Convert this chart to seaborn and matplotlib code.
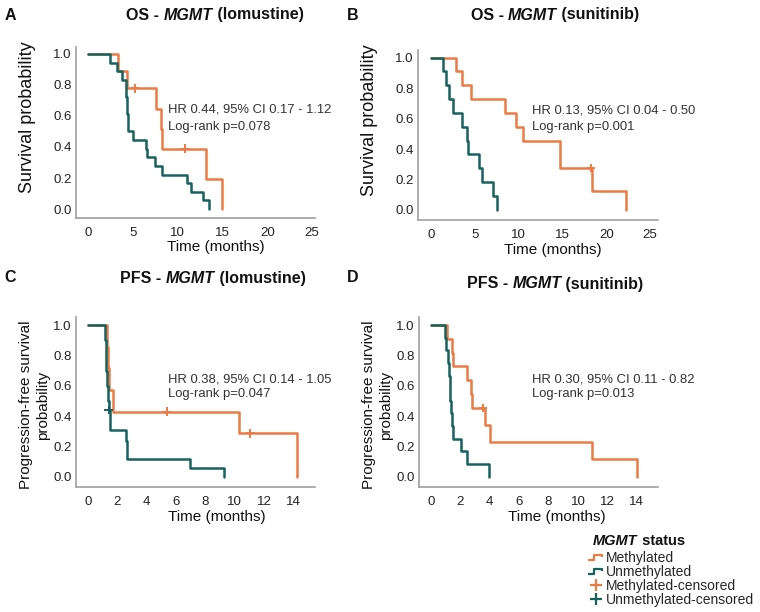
import pandas as pd
import matplotlib.pyplot as plt
import seaborn as sns
from matplotlib.lines import Line2D
from matplotlib.path import Path

# A: OS lomustine
a_meth_t = [0, 3.3, 4.3, 7.6, 8.2, 8.3, 13.15, 15.0]
a_meth_s = [1.0, 0.889, 0.778, 0.648, 0.518, 0.389, 0.194, 0.0]
a_meth_ct = [5.25, 10.8]
a_meth_cs = [0.778, 0.389]
a_unm_t = [0, 2.45, 3.2, 3.76, 4.22, 4.28, 4.34, 4.4, 4.46, 5.06, 6.47, 6.6, 7.48, 8.22, 11.0, 11.5, 12.87, 13.45]
a_unm_s = [1.0, 0.944, 0.889, 0.833, 0.778, 0.722, 0.667, 0.611, 0.5, 0.444, 0.389, 0.333, 0.278, 0.222, 0.167, 0.111, 0.056, 0.0]
a_unm_ct = []
a_unm_cs = []

# B: OS sunitinib
b_meth_t = [0, 2.85, 3.57, 4.53, 8.45, 9.7, 10.47, 14.76, 18.35, 22.2]
b_meth_s = [1.0, 0.909, 0.818, 0.727, 0.636, 0.545, 0.455, 0.273, 0.125, 0.0]
b_meth_ct = [18.25]
b_meth_cs = [0.273]
b_unm_t = [0, 1.41, 1.67, 2.05, 2.55, 3.58, 4.15, 4.26, 5.48, 5.86, 7.11, 7.5]
b_unm_s = [1.0, 0.909, 0.818, 0.727, 0.636, 0.545, 0.455, 0.364, 0.273, 0.182, 0.091, 0.0]
b_unm_ct = []
b_unm_cs = []

# C: PFS lomustine
c_meth_t = [0, 1.3, 1.36, 1.4, 1.68, 10.3, 14.27]
c_meth_s = [1.0, 0.857, 0.714, 0.571, 0.429, 0.286, 0.0]
c_meth_ct = [5.36, 11.05]
c_meth_cs = [0.429, 0.286]
c_unm_t = [0, 1.16, 1.2, 1.25, 1.3, 1.35, 1.4, 1.5, 2.57, 2.66, 6.95, 9.27]
c_unm_s = [1.0, 0.9, 0.8, 0.7, 0.6, 0.5, 0.44, 0.31, 0.235, 0.115, 0.058, 0.0]
c_unm_ct = [1.42]
c_unm_cs = [0.44]

# D: PFS sunitinib
d_meth_t = [0, 1.07, 1.41, 1.47, 2.47, 2.72, 2.8, 3.68, 4.02, 10.98, 14.04]
d_meth_s = [1.0, 0.909, 0.818, 0.727, 0.636, 0.545, 0.455, 0.341, 0.227, 0.114, 0.0]
d_meth_ct = [3.52]
d_meth_cs = [0.455]
d_unm_t = [0, 0.95, 1.05, 1.15, 1.22, 1.27, 1.32, 1.38, 1.43, 1.48, 2.02, 2.43, 3.97]
d_unm_s = [1.0, 0.917, 0.833, 0.75, 0.667, 0.583, 0.5, 0.417, 0.333, 0.25, 0.167, 0.083, 0.0]
d_unm_ct = []
d_unm_cs = []

hr_texts = ['HR 0.44, 95% CI 0.17 - 1.12', 'HR 0.13, 95% CI 0.04 - 0.50',
            'HR 0.38, 95% CI 0.14 - 1.05', 'HR 0.30, 95% CI 0.11 - 0.82']
p_texts = ['Log-rank p=0.078', 'Log-rank p=0.001', 'Log-rank p=0.047', 'Log-rank p=0.013']
endpoints = ['OS', 'OS', 'PFS', 'PFS']
drugs = ['(lomustine)', '(sunitinib)', '(lomustine)', '(sunitinib)']
letters = ['A', 'B', 'C', 'D']
ylabels = ['Survival probability', 'Survival probability',
           'Progression-free survival\nprobability', 'Progression-free survival\nprobability']
legend_labels = ['Methylated', 'Unmethylated', 'Methylated-censored', 'Unmethylated-censored']

ORANGE = '#EB7A45'
TEAL = '#17625D'
paleta = {'Methylated': ORANGE, 'Unmethylated': TEAL}

sns.set_style('white')
plt.rcParams['font.family'] = ['Liberation Sans', 'DejaVu Sans']

W, H = 760, 612
fig = plt.figure(figsize=(W / 100, H / 100), dpi=100)


def rich_text(x, y, parts, size, ha='center'):
    # tekst z mieszanym stylem (pogrubienie / kursywa)
    r = fig.canvas.get_renderer()
    objs = [fig.text(0, 0, s, fontsize=size, va='center', ha='left', color='#111', **kw) for s, kw in parts]
    widths = [t.get_window_extent(r).width for t in objs]
    x0 = x - sum(widths) / 2 if ha == 'center' else x
    for t, w in zip(objs, widths):
        t.set_position((x0 / W, 1 - y / H))
        x0 += w


# geometria paneli w pikselach: lewo, góra, prawo, dół
boxes = [(76, 47, 315, 218), (418, 50, 658, 220), (76, 317, 315, 487), (419, 317, 658, 487)]
xlims = [(-1.34, 25.33), (-1.48, 25.9), (-0.82, 15.47), (-0.82, 15.45)]
ylims = [(-0.058, 1.045), (-0.066, 1.05), (-0.068, 1.053), (-0.068, 1.053)]
xticks = [range(0, 26, 5), range(0, 26, 5), range(0, 15, 2), range(0, 15, 2)]
title_pos = [(215, 15), (555, 15), (213, 279), (555, 284)]
letter_pos = [(10, 15), (353, 15), (10, 278), (353, 278)]
text_pos = [(0.385, 0.632, 0.532), (0.475, 0.647, 0.547), (0.385, 0.635, 0.545), (0.473, 0.635, 0.545)]
ylab_size = [13, 13, 11, 11]
ylab_pos = [(-0.168, 0.59), (-0.168, 0.59), (-0.109, 0.482), (-0.109, 0.482)]
xlab_pos = [(0.586, -0.13), (0.56, -0.135), (0.59, -0.135), (0.576, -0.135)]

dane = [
    (a_meth_t, a_meth_s, a_meth_ct, a_meth_cs, a_unm_t, a_unm_s, a_unm_ct, a_unm_cs),
    (b_meth_t, b_meth_s, b_meth_ct, b_meth_cs, b_unm_t, b_unm_s, b_unm_ct, b_unm_cs),
    (c_meth_t, c_meth_s, c_meth_ct, c_meth_cs, c_unm_t, c_unm_s, c_unm_ct, c_unm_cs),
    (d_meth_t, d_meth_s, d_meth_ct, d_meth_cs, d_unm_t, d_unm_s, d_unm_ct, d_unm_cs),
]

for i, (mt, ms, mct, mcs, ut, us, uct, ucs) in enumerate(dane):
    l, t, r, b = boxes[i]
    ax = fig.add_axes([l / W, 1 - b / H, (r - l) / W, (b - t) / H])

    df = pd.concat([
        pd.DataFrame({'time': mt, 'surv': ms, 'status': 'Methylated'}),
        pd.DataFrame({'time': ut, 'surv': us, 'status': 'Unmethylated'}),
    ], ignore_index=True)
    sns.lineplot(data=df, x='time', y='surv', hue='status', palette=paleta, estimator=None,
                 sort=False, drawstyle='steps-post', linewidth=1.8, legend=False, ax=ax)

    cens = pd.concat([
        pd.DataFrame({'time': mct, 'surv': mcs, 'status': 'Methylated'}),
        pd.DataFrame({'time': uct, 'surv': ucs, 'status': 'Unmethylated'}),
    ], ignore_index=True)
    if len(cens):
        sns.scatterplot(data=cens, x='time', y='surv', hue='status', palette=paleta, marker='+',
                        s=40, linewidth=1.4, legend=False, ax=ax, zorder=3)

    ax.set_xlim(*xlims[i])
    ax.set_ylim(*ylims[i])
    ax.set_xticks(list(xticks[i]))
    ax.set_yticks([0, 0.2, 0.4, 0.6, 0.8, 1.0])
    ax.set_yticklabels(['0.0', '0.2', '0.4', '0.6', '0.8', '1.0'])
    ax.tick_params(length=0, labelsize=9.5, colors='#222')
    ax.tick_params(axis='x', pad=6.5)
    ax.tick_params(axis='y', pad=3)
    sns.despine(ax=ax)
    for sp in ['left', 'bottom']:
        ax.spines[sp].set_color('#a0a0a0')
        ax.spines[sp].set_linewidth(1.2)

    ax.set_xlabel('Time (months)', fontsize=11, color='#111')
    ax.set_ylabel(ylabels[i], fontsize=ylab_size[i], color='#111', linespacing=1.3)
    ax.xaxis.set_label_coords(*xlab_pos[i])
    ax.yaxis.set_label_coords(*ylab_pos[i])

    tx, ty1, ty2 = text_pos[i]
    ax.text(tx, ty1, hr_texts[i], transform=ax.transAxes, fontsize=9.4, color='#333', va='center')
    ax.text(tx, ty2, p_texts[i], transform=ax.transAxes, fontsize=9.4, color='#333', va='center')

    rich_text(title_pos[i][0], title_pos[i][1],
              [(endpoints[i] + ' - ', {'fontweight': 'bold'}),
               ('MGMT', {'fontweight': 'bold', 'fontstyle': 'italic'}),
               (' ' + drugs[i], {'fontweight': 'bold'})], 11.5)
    fig.text(letter_pos[i][0] / W, 1 - letter_pos[i][1] / H, letters[i], fontsize=11.5,
             fontweight='bold', ha='center', va='center', color='#111')

# legenda ze schodkowymi ikonami
schodek = Path([(-1, -0.3), (-0.3, -0.3), (-0.3, 0.3), (0.7, 0.3), (0.7, -0.05)])
handles = [
    Line2D([], [], linestyle='none', marker=schodek, markersize=12, markeredgewidth=1.6,
           markeredgecolor=ORANGE, markerfacecolor='none'),
    Line2D([], [], linestyle='none', marker=schodek, markersize=12, markeredgewidth=1.6,
           markeredgecolor=TEAL, markerfacecolor='none'),
    Line2D([], [], linestyle='none', marker='+', markersize=9, markeredgewidth=1.6, color=ORANGE),
    Line2D([], [], linestyle='none', marker='+', markersize=9, markeredgewidth=1.6, color=TEAL),
]
fig.legend(handles, legend_labels, loc='upper left', bbox_to_anchor=(589 / W, 1 - 551 / H),
           frameon=False, fontsize=10, handlelength=1.0, handletextpad=0.25,
           labelspacing=0.0, borderpad=0, borderaxespad=0)
rich_text(593, 541, [('MGMT', {'fontweight': 'bold', 'fontstyle': 'italic'}),
                     (' status', {'fontweight': 'bold'})], 10.5, ha='left')

fig.savefig('out.png', dpi=100)
